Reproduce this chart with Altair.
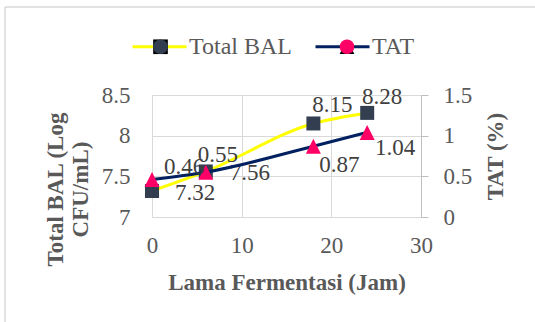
import altair as alt
import pandas as pd

# Fermentation time (hours) and measured values
jam = [0, 6, 18, 24]
total_bal = [7.32, 7.56, 8.15, 8.28]   # Log CFU/mL
tat = [0.46, 0.55, 0.87, 1.04]         # %
series_names = ["Total BAL", "TAT"]

FONT = "Liberation Serif"
TXT = "#595959"
LBL = "#404040"
GRID = "#d9d9d9"
AXIS = "#bfbfbf"
YELLOW = "#ffff00"
NAVY = "#002060"
SLATE = "#333f50"
PINK = "#ff0066"
TRIANGLE = "M0,-1L1,1L-1,1Z"

bal_df = pd.DataFrame({"jam": jam, "nilai": total_bal, "seri": series_names[0]})
bal_df["penanda"] = bal_df["seri"]
tat_df = pd.DataFrame({"jam": jam, "nilai": tat, "seri": series_names[1]})
tat_df["penanda"] = tat_df["seri"]

W, H = 269, 122
PAD = {"left": 152, "top": 95, "right": 114, "bottom": 105}

x_enc = alt.X(
    "jam:Q",
    scale=alt.Scale(domain=[0, 30], nice=False),
    axis=alt.Axis(
        values=[0, 10, 20, 30], grid=True, gridColor=GRID, domain=False, ticks=False,
        labelFlush=False, labelFont=FONT, labelFontSize=23, labelColor=TXT,
        labelPadding=17,
        title="Lama Fermentasi (Jam)", titleFont=FONT, titleFontSize=23,
        titleFontWeight="bold", titleColor=TXT, titleBaseline="middle", titleY=65,
    ),
)

# Legend for the lines (stroke swatches with labels)
line_legend = alt.Legend(
    orient="none", legendX=-21, legendY=-77, direction="horizontal", title=None,
    symbolType="stroke", symbolSize=2916, symbolStrokeWidth=3,
    labelFont=FONT, labelFontSize=24, labelColor=TXT, labelOffset=1,
    columnPadding=17,
)
color_enc = alt.Color(
    "seri:N",
    scale=alt.Scale(domain=series_names, range=[YELLOW, NAVY]),
    legend=line_legend,
)

# Legend for the markers, sitting on the middle of each line swatch
marker_legend = alt.Legend(
    orient="none", legendX=-3, legendY=-60, direction="horizontal", title=None,
    symbolSize=215, symbolStrokeWidth=0,
    labelExpr="''", labelFontSize=23, labelOffset=0,
    columnPadding=163.5,
)
fill_enc = alt.Fill(
    "penanda:N", sort=series_names,
    scale=alt.Scale(range=[SLATE, PINK]),
    legend=marker_legend,
)
shape_enc = alt.Shape(
    "penanda:N", sort=series_names,
    scale=alt.Scale(range=["square", TRIANGLE]),
    legend=marker_legend,
)


def value_labels(df, y_enc, offsets):
    layers = []
    for j, (dx, dy, align) in offsets.items():
        layers.append(
            alt.Chart(df)
            .transform_filter(alt.datum.jam == j)
            .mark_text(dx=dx, dy=dy, align=align, baseline="middle",
                       font=FONT, fontSize=23, color=LBL)
            .encode(x=x_enc, y=y_enc, text=alt.Text("nilai:Q", format=".2f"))
        )
    return layers


# Left axis: Total BAL
y_bal = alt.Y(
    "nilai:Q",
    scale=alt.Scale(domain=[7, 8.5], nice=False, zero=False),
    axis=alt.Axis(
        values=[7, 7.5, 8, 8.5], format="~g", grid=True, gridColor=GRID,
        domain=False, ticks=False, labelFont=FONT, labelFontSize=23,
        labelColor=TXT, labelPadding=22,
        title=["Total BAL (Log", "CFU/mL)"], titleFont=FONT, titleFontSize=23,
        titleFontWeight="bold", titleColor=TXT, titleAngle=270,
        titleAlign="center", titleBaseline="middle", titleLineHeight=25,
        titleX=-97, titleY=94,
    ),
)

bal_line = alt.Chart(bal_df).mark_line(
    interpolate="monotone", strokeWidth=3
).encode(x=x_enc, y=y_bal, color=color_enc)
bal_pts = alt.Chart(bal_df).mark_point(
    filled=True, size=196, opacity=1
).encode(x=x_enc, y=y_bal, fill=fill_enc, shape=shape_enc)
bal_group = alt.layer(
    bal_line, bal_pts,
    *value_labels(bal_df, y_bal, {
        0: (23, 2, "left"), 6: (24, 2, "left"),
        18: (19, -18, "center"), 24: (15, -16, "center"),
    }),
)

# Right axis: TAT
y_tat = alt.Y(
    "nilai:Q",
    scale=alt.Scale(domain=[0, 1.5], nice=False),
    axis=alt.Axis(
        orient="right", values=[0, 0.5, 1, 1.5], format="~g", grid=False,
        domain=True, domainColor=AXIS, ticks=True, tickColor=AXIS, tickSize=7,
        labelFont=FONT, labelFontSize=23, labelColor=TXT, labelPadding=15,
        title="TAT (%)", titleFont=FONT, titleFontSize=23, titleFontWeight="bold",
        titleColor=TXT, titleAngle=270, titleAlign="center",
        titleBaseline="middle", titleX=74, titleY=61,
    ),
)

tat_line = alt.Chart(tat_df).mark_line(
    interpolate="monotone", strokeWidth=3
).encode(x=x_enc, y=y_tat, color=color_enc)
tat_pts = alt.Chart(tat_df).mark_point(
    filled=True, size=225, opacity=1
).encode(x=x_enc, y=y_tat, fill=fill_enc, shape=shape_enc)
tat_group = alt.layer(
    tat_line, tat_pts,
    *value_labels(tat_df, y_tat, {
        0: (32, -13, "center"), 6: (12, -17, "center"),
        18: (26, 19, "center"), 24: (28, 16, "center"),
    }),
)

# Light frame edges along the left and top of the figure, kept inside the canvas
frame_src = pd.DataFrame({"bingkai": [0]})
right_edge = W + PAD["right"]
bottom_edge = H + PAD["bottom"]
frame_left = alt.Chart(frame_src).mark_rule(color=GRID, strokeWidth=1.5).encode(
    x=alt.value(-147), y=alt.value(-88), y2=alt.value(bottom_edge),
)
frame_top = alt.Chart(frame_src).mark_rule(color=GRID, strokeWidth=1.5).encode(
    x=alt.value(-147), x2=alt.value(right_edge), y=alt.value(-88),
)

chart = (
    alt.layer(bal_group, tat_group, frame_left, frame_top)
    .resolve_scale(y="independent")
    .properties(width=W, height=H, autosize="none", padding=PAD, background="white")
    .configure_view(stroke=None)
)

chart.save("out.html", embed_options={"renderer": "svg", "actions": False})
